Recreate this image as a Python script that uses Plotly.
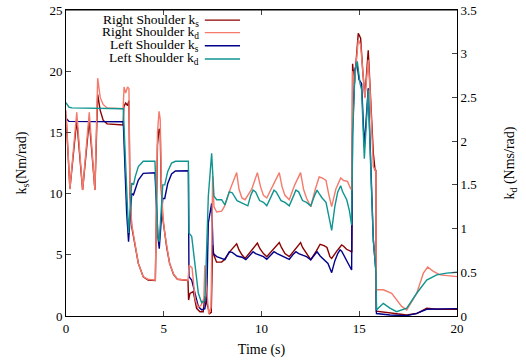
import plotly.graph_objects as go

# ---- data ----
rs_ks_t = [0.0,0.2,0.55,0.85,1.19,1.48,1.62,1.75,1.9,2.1,2.92,2.96,3.05,3.15,3.22,3.27,3.36,3.53,3.7,3.95,4.2,4.57,4.62,4.68,4.76,4.82,4.87,4.95,5.05,5.15,5.3,5.5,5.7,6.24,6.27,6.34,6.51,6.68,6.85,7.02,7.1,7.2,7.35,7.43,7.5,7.56,7.7,7.96,8.1,8.4,8.73,8.85,9.0,9.16,9.4,9.79,9.92,10.1,10.27,10.6,10.91,11.02,11.2,11.42,11.7,12.0,12.1,12.3,12.52,12.8,13.0,13.2,13.35,13.5,13.59,13.85,14.1,14.2,14.35,14.55,14.62,14.66,14.75,14.95,15.07,15.18,15.29,15.46,15.55,15.72,15.81,15.85,15.87,16.57,17.43,17.94,18.45,18.96,20.0]
rs_ks = [16.4,10.4,16.0,10.3,16.0,10.3,18.1,16.8,16.0,15.7,15.6,17.1,17.4,17.2,17.6,10.0,7.3,5.66,4.3,3.2,2.94,2.9,10.5,14.0,15.3,15.0,10.5,8.0,6.8,5.6,4.3,3.4,3.0,2.9,1.3,1.85,2.0,0.63,0.35,0.35,1.6,1.1,0.2,0.3,5.8,5.0,4.4,4.4,4.6,5.3,5.9,5.4,5.0,4.7,5.2,5.95,5.5,5.1,4.85,5.4,6.0,5.6,5.1,4.85,5.4,6.0,5.6,5.1,4.6,5.3,5.86,5.75,5.6,4.85,4.7,5.3,5.8,5.7,5.45,5.3,5.2,20.6,19.0,23.1,22.7,20.0,17.9,21.7,19.0,13.3,11.9,11.9,0.4,0.27,0.08,0.2,0.63,0.55,0.55]

rs_kd_t = [0.0,0.2,0.55,0.85,1.19,1.48,1.62,1.75,1.9,2.1,2.92,2.97,3.05,3.15,3.22,3.27,3.36,3.53,3.7,3.95,4.2,4.57,4.62,4.68,4.76,4.82,4.87,4.95,5.05,5.15,5.3,5.5,5.7,6.24,6.3,6.45,6.6,6.75,6.9,7.05,7.1,7.2,7.3,7.42,7.5,7.57,7.71,7.96,8.1,8.4,8.73,8.85,9.0,9.16,9.5,9.79,9.95,10.1,10.27,10.6,10.91,11.05,11.2,11.42,11.7,12.0,12.15,12.3,12.52,12.75,12.95,13.1,13.3,13.45,13.59,13.8,14.05,14.2,14.4,14.55,14.62,14.66,14.75,14.95,15.07,15.18,15.29,15.46,15.55,15.72,15.81,15.85,15.87,16.23,16.66,17.17,17.43,17.94,18.28,18.5,18.79,19.13,20.0]
rs_kd = [2.35,1.45,2.33,1.44,2.33,1.44,2.72,2.5,2.42,2.38,2.37,2.62,2.55,2.62,2.6,1.45,1.05,0.8,0.6,0.45,0.42,0.41,1.4,2.1,2.34,2.25,1.6,1.15,0.95,0.8,0.6,0.48,0.42,0.41,0.58,0.55,0.2,0.1,0.12,0.2,0.58,0.3,0.02,0.1,1.6,1.25,1.19,1.2,1.25,1.45,1.64,1.45,1.35,1.33,1.45,1.64,1.48,1.38,1.35,1.5,1.64,1.48,1.38,1.33,1.5,1.64,1.45,1.35,1.25,1.45,1.59,1.58,1.55,1.38,1.25,1.45,1.58,1.55,1.54,1.46,1.44,2.8,2.65,3.16,3.1,2.8,2.49,2.93,2.6,1.71,1.65,1.65,0.3,0.3,0.26,0.11,0.07,0.26,0.49,0.56,0.51,0.47,0.45]

ls_ks_t = [0.0,0.15,2.93,3.0,3.1,3.2,3.3,3.36,3.45,3.6,3.7,3.95,4.55,4.6,4.7,4.77,4.87,4.95,5.05,5.2,5.4,5.6,6.26,6.29,6.43,6.6,6.77,6.94,7.1,7.2,7.28,7.45,7.53,7.71,7.96,8.13,8.35,8.5,8.75,9.0,9.2,9.45,9.57,9.7,9.9,10.1,10.27,10.5,10.64,10.8,11.0,11.2,11.42,11.6,11.76,11.9,12.1,12.3,12.52,12.7,12.84,13.0,13.2,13.4,13.59,13.75,13.9,14.02,14.1,14.3,14.45,14.61,14.66,14.78,14.87,14.99,15.12,15.26,15.46,15.6,15.72,15.86,15.88,16.57,17.43,17.94,18.45,20.0]
ls_ks = [16.15,15.9,15.87,13.0,8.5,6.07,8.5,10.0,9.9,10.6,11.1,11.65,11.7,10.0,6.5,5.5,8.0,9.6,9.6,10.8,11.6,11.85,11.87,3.2,2.94,1.85,0.76,0.5,0.6,1.5,7.6,9.2,5.1,4.85,4.7,4.6,5.25,5.2,4.9,4.8,4.6,5.1,5.25,5.1,4.95,4.85,4.63,5.0,5.25,5.1,4.95,4.85,4.63,5.0,5.25,5.1,4.95,4.85,4.6,5.0,5.25,4.9,4.63,4.3,3.54,4.5,5.1,5.4,5.3,4.7,4.3,3.76,15.2,20.1,20.8,19.3,19.0,13.8,18.6,12.0,6.2,3.5,0.2,0.08,0.03,0.22,0.55,0.6]

ls_kd_t = [0.0,0.15,0.3,2.93,3.0,3.1,3.2,3.3,3.36,3.45,3.55,3.7,3.95,4.55,4.6,4.7,4.77,4.87,4.95,5.05,5.2,5.4,5.6,6.26,6.29,6.43,6.6,6.77,6.94,7.11,7.28,7.45,7.57,7.71,7.96,8.13,8.35,8.5,8.75,9.0,9.3,9.45,9.57,9.7,9.9,10.1,10.27,10.52,10.64,10.75,11.0,11.2,11.42,11.65,11.76,11.9,12.1,12.3,12.52,12.72,12.84,12.95,13.1,13.3,13.45,13.59,13.75,13.9,14.05,14.15,14.36,14.5,14.61,14.66,14.78,14.9,15.04,15.12,15.26,15.46,15.6,15.72,15.86,15.88,16.23,16.57,16.91,17.43,17.94,18.45,18.96,19.47,20.0]
ls_kd = [2.44,2.39,2.38,2.37,2.0,1.4,0.95,1.3,1.52,1.5,1.6,1.71,1.77,1.77,1.5,0.9,0.85,1.2,1.5,1.5,1.65,1.75,1.77,1.77,0.95,0.91,0.56,0.26,0.15,0.18,1.37,1.86,1.37,1.33,1.33,1.27,1.42,1.41,1.32,1.29,1.26,1.38,1.44,1.42,1.32,1.3,1.26,1.38,1.44,1.42,1.32,1.3,1.26,1.38,1.44,1.42,1.32,1.3,1.26,1.38,1.44,1.40,1.35,1.3,1.15,0.98,1.25,1.42,1.49,1.42,1.33,1.2,1.04,2.05,2.8,2.91,2.66,2.59,1.8,2.59,1.6,0.87,0.49,0.07,0.145,0.09,0.05,0.09,0.26,0.41,0.47,0.49,0.5]

series_names = ["Right Shoulder k<sub>s</sub>", "Right Shoulder k<sub>d</sub>",
                "Left Shoulder k<sub>s</sub>", "Left Shoulder k<sub>d</sub>"]
series_colors = ["#8b0000", "#f47a6c", "#00008b", "#0f9490"]

x_ticks = [0, 5, 10, 15, 20]
ks_ticks = [0, 5, 10, 15, 20, 25]
kd_ticks = [0, 0.5, 1, 1.5, 2, 2.5, 3, 3.5]
kd_tick_text = ["0", "0.5", "1", "1.5", "2", "2.5", "3", "3.5"]

FONT = "Liberation Serif, Times New Roman, serif"
tickfont = dict(family=FONT, size=13, color="black")
titlefont = dict(family=FONT, size=14, color="black")

fig = go.Figure()
data = [(rs_ks_t, rs_ks, "y"), (rs_kd_t, rs_kd, "y2"), (ls_ks_t, ls_ks, "y"), (ls_kd_t, ls_kd, "y2")]
for (t, v, ax), name, col in zip(data, series_names, series_colors):
    fig.add_trace(go.Scatter(x=t, y=v, mode="lines", name=name, yaxis=ax,
                             line=dict(color=col, width=1.4), showlegend=False))

# manual gnuplot-style legend (text right-aligned, sample line to the right)
leg_y = [0.967, 0.926, 0.883, 0.840]
for yy, name, col in zip(leg_y, series_names, series_colors):
    fig.add_annotation(x=0.342, y=yy, xref="paper", yref="paper", text=name,
                       showarrow=False, xanchor="right", yanchor="middle",
                       borderpad=0,
                       font=dict(family=FONT, size=13.5, color="black"))
    fig.add_shape(type="line", xref="paper", yref="paper", x0=0.355, x1=0.445,
                  y0=yy, y1=yy, line=dict(color=col, width=1.4))

# top border of the frame
fig.add_shape(type="line", xref="paper", yref="paper", x0=0, x1=1, y0=1, y1=1,
              line=dict(color="black", width=1))

fig.update_layout(
    width=526, height=361,
    margin=dict(l=66, r=69, t=10, b=45, autoexpand=False),
    paper_bgcolor="white", plot_bgcolor="white",
    font=dict(family=FONT, size=13, color="black"),
    xaxis=dict(range=[0, 20], tickvals=x_ticks, ticks="inside", ticklen=5,
               showline=True, linecolor="black", linewidth=1, mirror="ticks",
               showgrid=False, zeroline=False, automargin=False, tickfont=tickfont,
               title=dict(text="Time (s)", standoff=9, font=titlefont)),
    yaxis=dict(range=[0, 25], tickvals=ks_ticks, ticks="inside", ticklen=5,
               showline=True, linecolor="black", linewidth=1,
               showgrid=False, zeroline=False, automargin=False, tickfont=tickfont,
               title=dict(text="k<sub>s</sub>(Nm/rad)", standoff=19, font=titlefont)),
    yaxis2=dict(range=[0, 3.5], tickvals=kd_ticks, ticktext=kd_tick_text,
                overlaying="y", side="right", ticks="inside", ticklen=5,
                showline=True, linecolor="black", linewidth=1,
                showgrid=False, zeroline=False, automargin=False, tickfont=tickfont,
                title=dict(text="k<sub>d</sub> (Nms/rad)", standoff=28, font=titlefont)),
)

# remove the default 8px page margin so the figure fills the window exactly
fig.write_html("out.html",
               config={"displayModeBar": False},
               post_script="document.body.style.margin='0';document.body.style.overflow='hidden';")
